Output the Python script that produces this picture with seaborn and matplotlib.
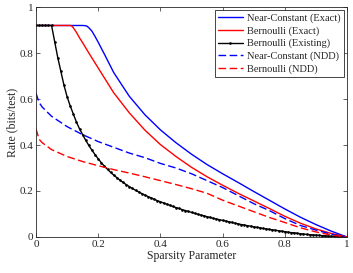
"""Rate vs sparsity parameter, recreated with seaborn."""

import matplotlib
matplotlib.use("Agg")
import matplotlib.pyplot as plt
import pandas as pd
import seaborn as sns

# ---- data ----
nc_exact_x = [0, 0.15, 0.16, 0.165, 0.17, 0.18, 0.19, 0.2, 0.22, 0.25, 0.3, 0.35,
              0.4, 0.45, 0.5, 0.55, 0.6, 0.65, 0.7, 0.75, 0.8, 0.85, 0.9, 0.95, 1.0]
nc_exact_y = [0.92, 0.92, 0.919, 0.916, 0.91, 0.895, 0.872, 0.847, 0.795, 0.715,
              0.612, 0.532, 0.466, 0.41, 0.36, 0.315, 0.275, 0.237, 0.198, 0.16,
              0.122, 0.086, 0.054, 0.025, 0.0]

bern_exact_x = [0, 0.11, 0.115, 0.12, 0.13, 0.14, 0.15, 0.17, 0.2, 0.25, 0.3, 0.35,
                0.4, 0.45, 0.5, 0.55, 0.6, 0.65, 0.7, 0.75, 0.8, 0.85, 0.9, 0.95, 1.0]
bern_exact_y = [0.92, 0.92, 0.918, 0.91, 0.89, 0.866, 0.845, 0.80, 0.735, 0.627,
                0.54, 0.465, 0.402, 0.35, 0.303, 0.262, 0.225, 0.19, 0.157, 0.124,
                0.09, 0.06, 0.035, 0.015, 0.0]

bern_existing_x = [i / 100 for i in range(101)]
bern_existing_y = [
    0.92, 0.92, 0.92, 0.92, 0.92, 0.92, 0.85, 0.78, 0.72, 0.66,
    0.61, 0.57, 0.535, 0.50, 0.47, 0.445, 0.42, 0.398, 0.377, 0.358,
    0.34, 0.323, 0.308, 0.294, 0.281, 0.269, 0.258, 0.247, 0.237, 0.228,
    0.219, 0.211, 0.203, 0.196, 0.189, 0.182, 0.176, 0.170, 0.164, 0.158,
    0.153, 0.148, 0.143, 0.138, 0.133, 0.128, 0.124, 0.119, 0.115, 0.111,
    0.107, 0.103, 0.099, 0.095, 0.092, 0.088, 0.085, 0.081, 0.078, 0.075,
    0.072, 0.069, 0.066, 0.063, 0.060, 0.057, 0.054, 0.052, 0.049, 0.047,
    0.044, 0.042, 0.040, 0.037, 0.035, 0.033, 0.031, 0.029, 0.027, 0.025,
    0.023, 0.021, 0.019, 0.018, 0.016, 0.014, 0.013, 0.011, 0.010, 0.009,
    0.008, 0.007, 0.006, 0.005, 0.004, 0.003, 0.002, 0.0015, 0.001, 0.0005,
    0.0,
]

ndd_x = [0, 0.01, 0.02, 0.05, 0.1, 0.15, 0.2, 0.25, 0.3, 0.35, 0.4, 0.45, 0.5,
         0.55, 0.6, 0.65, 0.7, 0.75, 0.8, 0.85, 0.9, 0.95, 1.0]
nc_ndd_y = [0.625, 0.585, 0.565, 0.525, 0.48, 0.445, 0.415, 0.39, 0.365, 0.345,
            0.32, 0.30, 0.275, 0.245, 0.215, 0.18, 0.145, 0.115, 0.08, 0.05,
            0.03, 0.012, 0.0]
bern_ndd_y = [0.47, 0.425, 0.41, 0.38, 0.35, 0.328, 0.31, 0.293, 0.278, 0.262,
              0.245, 0.228, 0.21, 0.19, 0.16, 0.135, 0.11, 0.085, 0.063, 0.04,
              0.022, 0.008, 0.0]

tick_values = [0, 0.2, 0.4, 0.6, 0.8, 1]
tick_labels = ["0", "0.2", "0.4", "0.6", "0.8", "1"]

# ---- style ----
sns.set_theme(style="ticks")
plt.rcParams.update({
    "font.family": ["Liberation Serif", "DejaVu Serif"],
    "axes.edgecolor": "#262626",
    "axes.linewidth": 0.6,
    "xtick.direction": "in",
    "ytick.direction": "in",
    "xtick.top": True,
    "ytick.right": True,
    "xtick.major.size": 3,
    "ytick.major.size": 3,
    "xtick.major.width": 0.5,
    "ytick.major.width": 0.5,
    "xtick.color": "#262626",
    "ytick.color": "#262626",
})

fig, ax = plt.subplots(figsize=(3.53, 2.73), dpi=100)
fig.subplots_adjust(left=0.102, right=0.983, top=0.974, bottom=0.132)

dashed = (0, (5.5, 2.5))
series = [
    ("Near-Constant (Exact)", nc_exact_x, nc_exact_y, "#0000ff", "-", None),
    ("Bernoulli (Exact)", bern_exact_x, bern_exact_y, "#ff0000", "-", None),
    ("Bernoulli (Existing)", bern_existing_x, bern_existing_y, "#000000", "-", "."),
    ("Near-Constant (NDD)", ndd_x, nc_ndd_y, "#0000ff", dashed, None),
    ("Bernoulli (NDD)", ndd_x, bern_ndd_y, "#ff0000", dashed, None),
]
for label, xs, ys, color, ls, marker in series:
    df = pd.DataFrame({"x": xs, "y": ys})
    sns.lineplot(data=df, x="x", y="y", ax=ax, color=color, linestyle=ls,
                 linewidth=1.0, marker=marker, markersize=3.8, markeredgewidth=0,
                 label=label, sort=False, estimator=None)

ax.set_xlim(0, 1)
ax.set_ylim(0, 1)
ax.set_xticks(tick_values)
ax.set_yticks(tick_values)
ax.set_xticklabels(tick_labels)
ax.set_yticklabels(tick_labels)
ax.tick_params(labelsize=8, pad=2)
ax.set_xlabel("Sparsity Parameter", fontsize=8.5, labelpad=1)
ax.set_ylabel("Rate (bits/test)", fontsize=8.5, labelpad=1)

leg = ax.legend(loc="upper right", fontsize=7.5, frameon=True, fancybox=False,
                framealpha=1, edgecolor="#262626", handlelength=2.4,
                handletextpad=0.4, borderpad=0.3, labelspacing=0.3,
                borderaxespad=0.3)
leg.get_frame().set_linewidth(0.6)

fig.savefig("out.png", dpi=100)
